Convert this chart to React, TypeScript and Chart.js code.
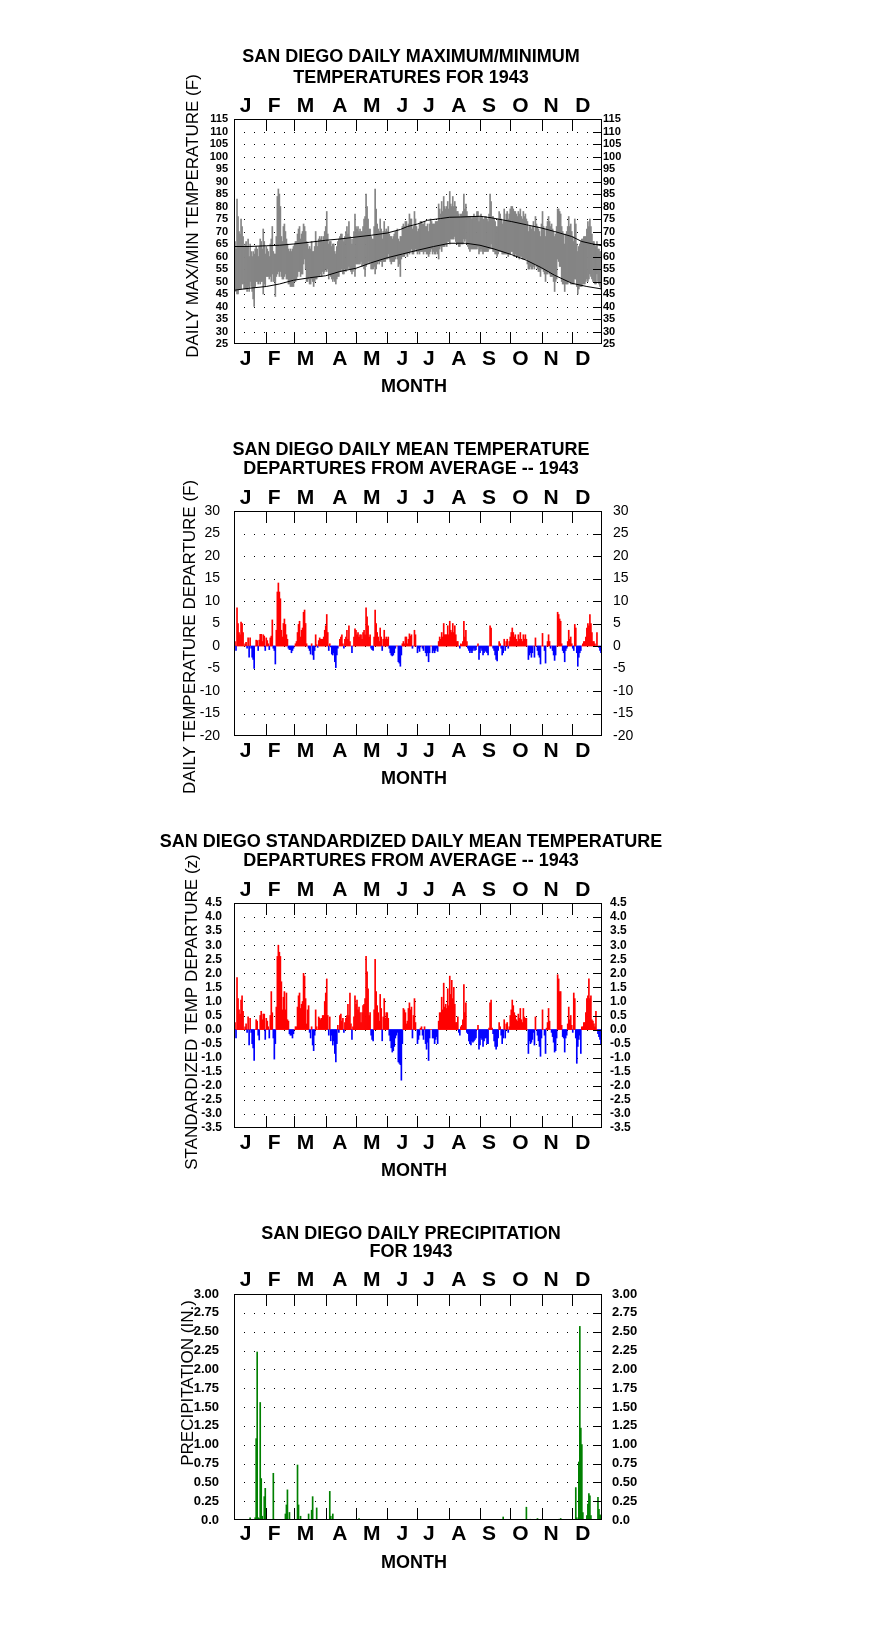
import React, { useEffect, useRef } from 'react';
import { Chart, registerables } from 'chart.js';

Chart.register(...registerables);

const FONT = "'Liberation Sans', Arial, Helvetica, sans-serif";
const W = 876;
const PLOT_LEFT = 234;
const PLOT_RIGHT = 602;
const AXIS_W = 60;

// ---------- axis / label data ----------
const monthLetters = ['J', 'F', 'M', 'A', 'M', 'J', 'J', 'A', 'S', 'O', 'N', 'D'];
const monthLabelDays = [11.4, 39.9, 71, 105, 136.6, 167, 193.2, 223, 253, 284, 314.6, 346];
const monthStartDays = [32, 60, 91, 121, 152, 182, 213, 244, 274, 305, 335];
const gridDotDays = [10, 20, 30, 40, 50, 60, 70, 80, 90, 100, 110, 120, 130, 140, 150, 160, 170, 180, 190, 200, 210, 220, 230, 240, 250, 260, 270, 280, 290, 300, 310, 320, 330, 340, 350];

const tempTicks = [25, 30, 35, 40, 45, 50, 55, 60, 65, 70, 75, 80, 85, 90, 95, 100, 105, 110, 115];
const depTicks = [-20, -15, -10, -5, 0, 5, 10, 15, 20, 25, 30];
const stdTicks = [-3.5, -3, -2.5, -2, -1.5, -1, -0.5, 0, 0.5, 1, 1.5, 2, 2.5, 3, 3.5, 4, 4.5];
const precipTicks = [0, 0.25, 0.5, 0.75, 1, 1.25, 1.5, 1.75, 2, 2.25, 2.5, 2.75, 3];
const precipTickLabels = ['0.0', '0.25', '0.50', '0.75', '1.00', '1.25', '1.50', '1.75', '2.00', '2.25', '2.50', '2.75', '3.00'];

// ---------- panel 1: daily max / min temperatures (F) ----------
const dailyMax = [
  66, 63, 83, 76, 70, 69, 75, 72, 68, 64, 65, 66, 64, 67, 60, 65, 62, 60, 62, 61, 63, 64, 63, 60, 64, 67, 66, 63, 71, 66, 61,
  64, 63, 62, 60, 65, 67, 72, 62, 61, 61, 68, 84, 87, 85, 80, 68, 66, 72, 73, 70, 67, 65, 63, 62, 63, 62, 63, 64,
  65, 66, 66, 69, 71, 72, 67, 69, 70, 73, 72, 70, 66, 65, 63, 64, 63, 66, 62, 62, 64, 70, 66, 64, 67, 68, 67, 68, 66, 68, 70,
  72, 78, 69, 65, 66, 66, 64, 65, 65, 62, 61, 64, 66, 67, 68, 69, 69, 67, 66, 68, 70, 72, 69, 74, 68, 67, 65, 67, 70, 77, 72,
  71, 72, 70, 71, 70, 70, 72, 75, 76, 85, 80, 75, 71, 71, 68, 67, 67, 72, 87, 79, 73, 71, 70, 75, 71, 67, 70, 74, 70, 71, 70,
  72, 69, 68, 68, 67, 68, 69, 70, 70, 71, 67, 66, 68, 68, 72, 73, 72, 74, 74, 72, 73, 77, 75, 75, 71, 72, 78, 75, 72, 70, 71,
  73, 74, 74, 73, 73, 74, 72, 72, 73, 70, 73, 75, 74, 73, 73, 73, 74, 74, 74, 81, 79, 77, 82, 78, 84, 80, 79, 80, 82, 79, 86,
  81, 80, 84, 80, 82, 80, 78, 78, 77, 76, 77, 77, 78, 85, 79, 81, 78, 76, 76, 76, 76, 75, 76, 77, 76, 76, 78, 78, 74, 76, 77,
  76, 75, 75, 76, 76, 75, 74, 77, 85, 82, 76, 76, 75, 74, 72, 72, 75, 78, 77, 75, 73, 74, 79, 74, 77, 78, 75, 77, 79, 80,
  80, 79, 78, 78, 77, 76, 78, 77, 79, 76, 75, 78, 76, 77, 75, 74, 70, 72, 72, 71, 72, 74, 70, 76, 73, 72, 71, 70, 68, 73, 78,
  72, 71, 68, 72, 74, 76, 74, 72, 73, 71, 70, 68, 69, 72, 79, 79, 78, 77, 72, 70, 69, 65, 69, 70, 72, 76, 72, 73, 70, 68,
  66, 75, 73, 65, 62, 64, 65, 66, 67, 67, 68, 68, 68, 71, 74, 72, 75, 72, 69, 66, 66, 65, 64, 66, 63, 63, 62, 62, 61,
];
const dailyMin = [
  47, 46, 45, 45, 47, 47, 47, 49, 49, 47, 47, 47, 46, 48, 46, 50, 48, 46, 43, 40, 48, 50, 50, 49, 50, 49, 50, 50, 45, 49, 48,
  52, 52, 52, 51, 52, 50, 53, 50, 50, 44, 52, 53, 54, 52, 54, 52, 51, 51, 52, 53, 51, 51, 49, 49, 48, 48, 48, 48,
  50, 50, 51, 52, 54, 54, 52, 53, 53, 57, 59, 55, 50, 50, 51, 49, 49, 51, 50, 48, 50, 51, 51, 52, 52, 52, 53, 52, 54, 53, 54,
  55, 54, 55, 51, 53, 52, 51, 50, 51, 50, 49, 51, 52, 52, 54, 54, 55, 53, 53, 55, 54, 55, 55, 56, 55, 54, 53, 54, 55, 52, 57,
  57, 57, 57, 57, 58, 56, 57, 55, 52, 56, 57, 58, 57, 58, 55, 55, 55, 56, 53, 55, 57, 58, 57, 58, 58, 56, 58, 58, 58, 59, 59,
  61, 59, 58, 57, 58, 58, 58, 59, 60, 59, 56, 57, 52, 59, 60, 60, 60, 61, 61, 60, 62, 61, 62, 63, 61, 61, 62, 63, 62, 61, 62,
  61, 62, 62, 62, 61, 62, 62, 61, 61, 60, 61, 62, 63, 61, 62, 61, 61, 62, 61, 59, 63, 64, 62, 64, 64, 64, 65, 64, 66, 66, 65,
  67, 67, 67, 67, 68, 66, 65, 65, 64, 64, 65, 65, 65, 67, 66, 67, 65, 64, 63, 62, 63, 63, 63, 63, 63, 63, 63, 64, 61, 62, 63,
  62, 61, 62, 62, 62, 62, 62, 63, 63, 65, 63, 62, 62, 61, 61, 60, 61, 62, 62, 62, 61, 61, 61, 61, 61, 61, 60, 61, 61, 62,
  62, 61, 60, 61, 60, 60, 60, 59, 60, 60, 59, 59, 59, 59, 59, 57, 55, 55, 56, 55, 55, 56, 55, 57, 56, 55, 54, 54, 52, 55, 55,
  54, 53, 50, 53, 53, 54, 53, 52, 52, 52, 50, 46, 50, 51, 59, 58, 56, 56, 50, 49, 49, 46, 49, 49, 49, 50, 50, 49, 49, 49,
  49, 51, 51, 48, 45, 47, 48, 48, 48, 49, 49, 49, 50, 51, 50, 51, 53, 52, 51, 50, 50, 49, 49, 53, 50, 49, 48, 47, 47,
];
const normalMaxDays = [0, 15, 32, 45, 59, 75, 91, 105, 121, 136, 152, 165, 172, 182, 192, 205, 214, 225, 244, 255, 275, 290, 305, 318, 335, 345, 355, 365];
const normalMaxValues = [64.0, 64.0, 64.3, 64.5, 65.0, 65.7, 66.5, 67.0, 67.8, 68.5, 69.4, 70.8, 72.0, 73.0, 74.5, 75.2, 75.7, 75.8, 76.1, 75.5, 74.0, 72.7, 71.4, 70.0, 68.0, 66.0, 65.1, 64.3];
const normalMinDays = [0, 15, 32, 45, 59, 75, 91, 105, 121, 136, 152, 167, 182, 198, 214, 230, 244, 258, 275, 290, 305, 318, 335, 350, 365];
const normalMinValues = [46.5, 47.3, 48.0, 49.0, 50.5, 51.5, 52.3, 54.0, 55.3, 57.5, 59.5, 61.0, 62.5, 64.0, 65.3, 65.3, 64.5, 63.0, 60.8, 58.5, 55.5, 52.5, 49.3, 48.0, 47.0];

// ---------- panel 2: daily mean temperature departures (F) ----------
const meanDeparture = [
  1, -1, 8.5, 5, 3, 2.5, 5.3, 5, 3, 0, 0.5, 0.8, -0.5, 1.8, -2.5, 1.8, -0.5, -2.5, -3, -5, 0, 1.3, 1.2, -1, 1.3, 2.6, 2.6, 1, 2.5, 2.2, -1,
  1.8, 1.2, 0.5, -0.8, 1.8, 2.2, 5.8, -0.5, -1, -4, 3.5, 12, 14, 12, 10.5, 3.5, 2, 5, 6, 4.8, 2.5, 1.5, -0.5, -0.8, -0.8, -1.5, -1, -0.5,
  0, 0.5, 1, 3, 4.8, 5.5, 2, 3.5, 4, 7.5, 8, 5, 0.5, 0, -0.5, -1, -1.8, 0.5, -2, -3, -1, 2.5, 0.3, -0.3, 1.2, 1.8, 1.5, 1.5, 1.5, 2, 3.5,
  4.5, 7, 3, -1, 0.5, -0.2, -1.8, -2, -1.5, -3.5, -4.8, -2, -0.5, 0, 1.5, 2, 2.5, 0.5, -0.5, 1.5, 2, 3.5, 1.5, 4.5, 1, 0, -1.5, 0, 2, 3.8, 3.5,
  2.5, 3, 2, 2.5, 2.5, 1.5, 3, 3.5, 2.5, 8.5, 6.5, 4.5, 2, 2.5, -0.5, -0.8, -1, 2, 8, 5, 3, 2, 1, 4, 2, -1, 1.5, 3.5, 1.5, 2, 1.5,
  2, -0.5, -1.5, -2, -2.2, -2, -1.5, -0.5, 0, 0, -3.5, -3.8, -4.5, -2, 0.5, 1, 0.5, 2, 2, 0.5, 1.5, 2.7, 2.2, 2.5, -0.5, 0, 3.5, 2.5, 0, -1.5, -0.5,
  -1.2, -0.2, 0, -0.5, -1, 0, -1.5, -2.2, -1.5, -3.5, -1.5, 0, 0, -1.5, -1, -1.5, -1, -0.5, -1.2, 1, 2, 1.5, 3, 2, 5, 2.5, 2.5, 2.5, 4.5, 2.5, 5.5,
  3.5, 3, 5, 3, 4.5, 2.5, 1, 1, 0, -0.5, 0.5, 0.3, 1, 5.5, 2, 3.5, 1, -0.5, -1, -1.5, -1, -1.5, -1, -0.5, -1, -0.8, 0, 0.5, -3, -1.5, -0.5,
  -1, -2, -1.5, -1, -1.2, -1.5, -2, 0, 4.5, 4, 0, -0.5, -1, -2, -3, -3.3, -1, 1, 0.5, -0.5, -2, -1.5, 1.5, -1, 1, 1.5, -0.5, 1, 2, 3,
  4, 3, 2, 2.5, 1.5, 1, 2.5, 1.5, 3, 1.5, 1, 2.5, 1.5, 2.5, 1.5, 0, -3, -2, -1.5, -2.5, -1.5, 0, -2.5, 1.8, 0, -1, -2, -2.5, -4, 0, 2.8,
  0, -1, -3.8, 0, 1, 2.5, 1, -0.5, 0, -1, -2, -3.2, -2, 0, 7.5, 7, 6, 5.5, 0.5, -1, -1.5, -3.5, -1, -0.5, 1, 3.5, 1.5, 2, 0.5, -0.5,
  -1, 4.8, 4, -1.5, -4.5, -2.5, -1.5, -1, 0, 0.5, 1, 1, 2, 4, 5, 4.5, 7, 5, 3, 1, 1, 0.5, 0, 3, 0, -0.3, -1, -1.5, -2.3,
];

// ---------- panel 3: standardized departures (z) ----------
const stdDeparture = [
  0.25, -0.3, 1.85, 1.1, 0.7, 0.55, 1.05, 1.2, 0.65, 0, 0.1, 0.2, -0.1, 0.45, -0.55, 0.4, -0.1, -0.5, -0.65, -1.1, 0, 0.35, 0.3, -0.2, -0.37, 0.5, 0.65, 0.35, 0.55, 0.55, -0.35,
  0.4, 0.3, 0.1, -0.3, 0.5, 1.35, 0.6, -0.3, -1.05, -0.5, 0.8, 2.6, 3.0, 2.75, 2.6, 1.7, 0.7, 1.15, 1.35, 0.7, 1.3, 0.35, 0.3, -0.15, -0.2, -0.2, -0.3, -0.15, 0,
  0.1, 0.1, 0.8, 1.2, 1.3, 0.75, 0.9, 1.0, 2.0, 1.9, 1.1, 0.2, 0.7, 0.85, -0.1, -0.3, 0.1, -0.55, -0.75, -0.2, 0.7, 0.1, 0, 0.45, 0.4, 0.35, 0.4, 0.5, 0.5, 1.0, 1.3, 1.8,
  0.5, -0.2, 0.45, -0.4, -0.2, -0.55, -0.4, -0.85, -1.15, -0.5, 0.15, -0.1, 0.5, 0.55, 0.3, 0.4, -0.1, 0.25, 0.4, 0.5, 0.9, 0.5, 1.3, 0.2, -0.35, 0.1, 0.45, 1.2, 0.9, 1.05,
  0.7, 0.8, 0.6, 0.25, 0.6, 0.85, 0.9, 1.1, 2.6, 2.05, 1.45, 0.5, 0.6, -0.2, -0.35, -0.4, 0.7, 2.5, 1.35, 0.85, 0.6, 0.3, 1.25, 0.75, -0.4, 0.45, 1.1, 0.4, 0.6, 0.6, 0.4,
  -0.2, -0.4, -0.65, -0.8, -0.75, -0.6, -0.3, -0.2, -0.1, -1.15, -1.2, -1.25, -1.8, -0.5, 0.75, 0.7, 0.6, 0.2, 0.3, 0.75, 0.95, 0.7, 0.8, -0.3, 0.5, 1.1, 0.25, 0, -0.5, -0.35,
  -0.2, 0.05, 0.1, -0.2, -0.35, 0.1, -0.5, -0.7, -0.45, -1.1, -0.3, 0, 0, -0.3, -0.3, -0.5, -0.35, -0.25, -0.5, 0.3, 0.6, 0.6, 1.15, 0.7, 1.65, 0.8, 0.9, 0.75, 1.45, 0.85, 1.9,
  1.25, 1.75, 1.1, 1.5, 0.9, 0.25, 0.25, 0.45, -0.1, -0.2, 0.1, 0.15, 0.35, 1.6, 0.6, 0.95, -0.1, -0.15, -0.4, -0.5, -0.55, -0.4, -0.45, -0.4, -0.35, -0.3, 0, 0.15, -0.7, -0.55, -0.3,
  -0.35, -0.6, -0.4, -0.3, -0.3, -0.5, -0.5, 0.05, 0.95, 1.05, 0.05, -0.15, -0.4, -0.6, -0.7, -0.6, -0.3, 0.25, 0.1, -0.2, -0.5, -0.3, 0.35, -0.3, 0.2, 0.25, -0.1, 0.1, 0.5, 0.7,
  1.05, 0.85, 0.6, 0.5, 0.35, 0.3, 0.55, 0.4, 0.75, 0.35, 0.25, 0.75, 0.45, 0.4, 0.4, 0, -0.85, -0.4, -0.5, -0.45, -0.35, -0.1, -0.55, 0.45, 0, -0.2, -0.4, -0.6, -0.95, -0.3, 0.7,
  0, -0.2, -0.85, 0.05, 0.25, 0.75, 0.3, 0, -0.1, -0.25, -0.45, -0.8, -0.75, -0.3, 1.95, 1.8, 1.35, 1.35, 0.15, -0.25, -0.3, -0.8, -0.3, -0.2, 0.2, 0.8, 0.35, 0.5, 0.15,
  -0.1, 1.3, 1.1, -0.3, -1.2, -0.6, -0.35, -0.2, -0.85, 0.1, 0.1, 0.25, 0.25, 0.6, 1.1, 1.2, 1.8, 1.1, 1.2, 0.35, 0.3, 0.2, 0.1, 0.65, 0, -0.15, -0.25, -0.35, -0.5, -0.45,
];

// ---------- panel 4: daily precipitation (in.) ----------
const precipDays = [16, 21, 22, 23, 24, 25, 26, 27, 28, 30, 31, 39, 40, 51, 52, 53, 55, 63, 64, 66, 74, 77, 78, 82, 95, 96, 98, 124, 153, 267, 290, 294, 301, 322, 324, 339, 340, 342, 343, 344, 345, 346, 350, 351, 352, 353, 354, 361, 362, 363, 364];
const precipAmounts = [0.03, 0.03, 1.08, 2.23, 0.03, 0.02, 1.56, 0.55, 0.05, 0.31, 0.42, 0.62, 0.01, 0.08, 0.2, 0.4, 0.1, 0.73, 0.2, 0.05, 0.08, 0.13, 0.31, 0.16, 0.38, 0.05, 0.08, 0.02, 0.01, 0.04, 0.17, 0.01, 0.02, 0.01, 0.02, 0.43, 0.03, 0.77, 2.57, 1.22, 1.0, 0.1, 0.06, 0.21, 0.35, 0.32, 0.06, 0.3, 0.14, 0.07, 0.06];

const RED = '#ff0000';
const BLUE = '#0000ff';
const GREEN = '#008000';
const GRAY = '#858585';

interface PanelSpec {
  top: number;
  height: number;
  plotTop: number;
  plotBottom: number;
  titles: string[];
  titleOffsets: number[];
  monthTopOffset: number;
  monthBottomOffset: number;
  yTitle: string;
  yTitleX: number;
  yTitleY: number;
  yMin: number;
  yMax: number;
  ticks: number[];
  tickLabel: (v: number, i: number) => string;
  tickFont: { size: number; weight: string };
  leftPad: number;
  rightPad: number;
  makeDatasets: () => any[];
}

const signedBars = (vals: number[]) => ({
  type: 'bar',
  data: vals.map((v, i) => ({ x: i + 1, y: v })),
  backgroundColor: vals.map((v) => (v >= 0 ? RED : BLUE)),
  borderWidth: 0,
  barPercentage: 1,
  categoryPercentage: 1,
  yAxisID: 'y',
});

const panels: PanelSpec[] = [
  {
    top: 0, height: 420, plotTop: 119, plotBottom: 344,
    titles: ['SAN DIEGO DAILY MAXIMUM/MINIMUM', 'TEMPERATURES FOR 1943'], titleOffsets: [-57, -36],
    monthTopOffset: -7, monthBottomOffset: 21,
    yTitle: 'DAILY MAX/MIN TEMPERATURE (F)', yTitleX: 198, yTitleY: 216,
    yMin: 25, yMax: 115, ticks: tempTicks, tickLabel: (v) => String(v),
    tickFont: { size: 11, weight: 'bold' }, leftPad: 6, rightPad: 1,
    makeDatasets: () => [
      { type: 'line', data: normalMaxDays.map((d, i) => ({ x: d, y: normalMaxValues[i] })), borderColor: '#000', borderWidth: 1, pointRadius: 0, order: 0, yAxisID: 'y' },
      { type: 'line', data: normalMinDays.map((d, i) => ({ x: d, y: normalMinValues[i] })), borderColor: '#000', borderWidth: 1, pointRadius: 0, order: 0, yAxisID: 'y' },
      { type: 'bar', data: dailyMax.map((v, i) => ({ x: i + 1, y: [dailyMin[i], v] })), backgroundColor: GRAY, borderWidth: 0, barPercentage: 1, categoryPercentage: 1, order: 1, yAxisID: 'y' },
    ],
  },
  {
    top: 420, height: 380, plotTop: 91, plotBottom: 316,
    titles: ['SAN DIEGO DAILY MEAN TEMPERATURE', 'DEPARTURES FROM AVERAGE -- 1943'], titleOffsets: [-56, -37],
    monthTopOffset: -7, monthBottomOffset: 21,
    yTitle: 'DAILY TEMPERATURE DEPARTURE (F)', yTitleX: 195, yTitleY: 217,
    yMin: -20, yMax: 30, ticks: depTicks, tickLabel: (v) => String(v),
    tickFont: { size: 14, weight: 'normal' }, leftPad: 14, rightPad: 11,
    makeDatasets: () => [signedBars(meanDeparture)],
  },
  {
    top: 800, height: 390, plotTop: 103, plotBottom: 328,
    titles: ['SAN DIEGO STANDARDIZED DAILY MEAN TEMPERATURE', 'DEPARTURES FROM AVERAGE -- 1943'], titleOffsets: [-56, -37],
    monthTopOffset: -7, monthBottomOffset: 21,
    yTitle: 'STANDARDIZED TEMP DEPARTURE (z)', yTitleX: 197, yTitleY: 212,
    yMin: -3.5, yMax: 4.5, ticks: stdTicks, tickLabel: (v) => v.toFixed(1),
    tickFont: { size: 12, weight: 'bold' }, leftPad: 12, rightPad: 8,
    makeDatasets: () => [signedBars(stdDeparture)],
  },
  {
    top: 1190, height: 444, plotTop: 104, plotBottom: 330,
    titles: ['SAN DIEGO DAILY PRECIPITATION', 'FOR 1943'], titleOffsets: [-55, -37],
    monthTopOffset: -8, monthBottomOffset: 20,
    yTitle: 'PRECIPITATION (IN.)', yTitleX: 193, yTitleY: 193,
    yMin: 0, yMax: 3, ticks: precipTicks, tickLabel: (_v, i) => precipTickLabels[i],
    tickFont: { size: 13, weight: 'bold' }, leftPad: 15, rightPad: 10,
    makeDatasets: () => [
      { type: 'bar', data: precipDays.map((d, i) => ({ x: d, y: precipAmounts[i] })), backgroundColor: GREEN, borderWidth: 0, barPercentage: 1, categoryPercentage: 1, yAxisID: 'y' },
    ],
  },
];

function Panel({ spec }: { spec: PanelSpec }) {
  const ref = useRef<HTMLCanvasElement>(null);
  useEffect(() => {
    const canvas = ref.current;
    if (!canvas) return;
    const s = spec;
    const inner = s.ticks.filter((v) => v !== s.yMin && v !== s.yMax);

    const decor = {
      id: 'decor',
      beforeDatasetsDraw(chart: any) {
        const { ctx } = chart;
        const xs = chart.scales.x;
        const ys = chart.scales.y;
        ctx.save();
        ctx.fillStyle = '#000';
        for (const v of inner) {
          const py = Math.round(ys.getPixelForValue(v));
          for (const d of gridDotDays) {
            const px = Math.round(xs.getPixelForValue(d));
            ctx.fillRect(px, py, 1, 1);
          }
        }
        ctx.restore();
      },
      afterDatasetsDraw(chart: any) {
        const { ctx, chartArea: a } = chart;
        const xs = chart.scales.x;
        const ys = chart.scales.y;
        ctx.save();
        ctx.strokeStyle = '#000';
        ctx.lineWidth = 1;
        ctx.strokeRect(a.left + 0.5, a.top + 0.5, a.right - a.left - 1, a.bottom - a.top - 1);
        ctx.beginPath();
        for (const d of monthStartDays) {
          const px = Math.round(xs.getPixelForValue(d)) + 0.5;
          ctx.moveTo(px, a.top);
          ctx.lineTo(px, a.top + 12);
          ctx.moveTo(px, a.bottom);
          ctx.lineTo(px, a.bottom - 12);
        }
        for (const v of inner) {
          const py = Math.round(ys.getPixelForValue(v)) + 0.5;
          ctx.moveTo(a.right - 9, py);
          ctx.lineTo(a.right, py);
        }
        ctx.stroke();
        ctx.restore();
      },
      afterDraw(chart: any) {
        const { ctx, chartArea: a } = chart;
        const xs = chart.scales.x;
        ctx.save();
        ctx.fillStyle = '#000';
        ctx.textAlign = 'center';
        ctx.textBaseline = 'alphabetic';
        ctx.font = `bold 18px ${FONT}`;
        s.titles.forEach((t, i) => ctx.fillText(t, 411, a.top + s.titleOffsets[i]));
        ctx.font = `bold 21px ${FONT}`;
        monthLetters.forEach((m, i) => {
          const px = xs.getPixelForValue(monthLabelDays[i]);
          ctx.fillText(m, px, a.top + s.monthTopOffset);
          ctx.fillText(m, px, a.bottom + s.monthBottomOffset);
        });
        ctx.font = `bold 18px ${FONT}`;
        ctx.fillText('MONTH', 414, a.bottom + 48);
        ctx.translate(s.yTitleX, s.yTitleY);
        ctx.rotate(-Math.PI / 2);
        ctx.font = `17px ${FONT}`;
        ctx.fillText(s.yTitle, 0, 0);
        ctx.restore();
      },
    };

    const yAxis = (position: string, pad: number) => ({
      type: 'linear',
      position,
      min: s.yMin,
      max: s.yMax,
      grid: { display: false, drawTicks: false },
      border: { display: false },
      afterBuildTicks: (sc: any) => {
        sc.ticks = s.ticks.map((v) => ({ value: v }));
      },
      afterFit: (sc: any) => {
        sc.width = AXIS_W;
      },
      ticks: {
        autoSkip: false,
        padding: pad,
        color: '#000',
        font: { family: FONT, size: s.tickFont.size, weight: s.tickFont.weight },
        callback: (v: any, i: number) => s.tickLabel(Number(v), i),
      },
    });

    const chart = new Chart(canvas, {
      type: 'bar',
      data: { datasets: s.makeDatasets() },
      options: {
        responsive: false,
        animation: false,
        events: [],
        layout: {
          padding: {
            left: PLOT_LEFT - AXIS_W,
            right: W - PLOT_RIGHT - AXIS_W,
            top: s.plotTop,
            bottom: s.height - s.plotBottom,
          },
        },
        plugins: {
          legend: { display: false },
          tooltip: { enabled: false },
          title: { display: false },
        },
        scales: {
          x: { type: 'linear', min: 0, max: 365, display: false, offset: false },
          y: yAxis('left', s.leftPad),
          y2: yAxis('right', s.rightPad),
        },
      } as any,
      plugins: [decor],
    } as any);
    return () => chart.destroy();
  }, [spec]);
  return (
    <canvas
      ref={ref}
      width={W}
      height={spec.height}
      style={{ position: 'absolute', left: 0, top: spec.top, display: 'block' }}
    />
  );
}

export default function App() {
  return (
    <div style={{ position: 'absolute', left: 0, top: 0, width: W, height: 1634, background: '#fff', overflow: 'hidden' }}>
      {panels.map((p, i) => (
        <Panel key={i} spec={p} />
      ))}
    </div>
  );
}
